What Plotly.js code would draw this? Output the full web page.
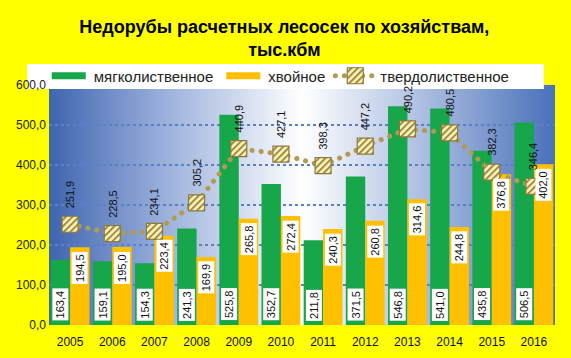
<!DOCTYPE html>
<html><head><meta charset="utf-8">
<script src="https://cdn.plot.ly/plotly-3.0.1.min.js"></script>
<style>
html,body{margin:0;padding:0;background:#FFFF00;}
#chart{width:571px;height:358px;}
.scatterlayer .js-line, .legendlines path{stroke-linecap:round;}
</style></head><body><div id="chart"></div>
<script>
const years = [2005, 2006, 2007, 2008, 2009, 2010, 2011, 2012, 2013, 2014, 2015, 2016];
const softLeaved = [163.4, 159.1, 154.3, 241.3, 525.8, 352.7, 211.8, 371.5, 546.8, 541.0, 435.8, 506.5];
const conifer = [194.5, 195.0, 223.4, 169.9, 265.8, 272.4, 240.3, 260.8, 314.6, 244.8, 376.8, 402.0];
const hardLeaved = [251.9, 228.5, 234.1, 305.2, 440.9, 427.1, 398.3, 447.2, 490.2, 480.5, 382.3, 346.4];
const seriesNames = ['мягколиственное', 'хвойное', 'твердолиственное'];
const titleText = 'Недорубы расчетных лесосек по хозяйствам,<br>тыс.кбм';

const fmt = v => v.toFixed(1).replace('.', ',');
const FONT = 'Liberation Sans, Arial, sans-serif';

// gradient background image for plot area
const cv = document.createElement('canvas');
cv.width = 500; cv.height = 240;
const cx = cv.getContext('2d');
const g = cx.createLinearGradient(0, 0, 500, 0);
g.addColorStop(0, '#3F65B0');
g.addColorStop(0.22, '#98AEDA');
g.addColorStop(0.5, '#FFFFFF');
g.addColorStop(0.72, '#B3C4E4');
g.addColorStop(1, '#4A71BA');
cx.fillStyle = g; cx.fillRect(0, 0, 500, 240);
const bgURL = cv.toDataURL('image/png');

const off = 0.23;
const traces = [
  {type: 'bar', name: seriesNames[0], x: years, y: softLeaved,
   marker: {color: '#17A64A'}, hoverinfo: 'none'},
  {type: 'bar', name: seriesNames[1], x: years, y: conifer,
   marker: {color: '#FFC000'}, hoverinfo: 'none'},
  {type: 'scatter', mode: 'lines+markers', name: seriesNames[2], x: years, y: hardLeaved,
   line: {color: '#B29A52', width: 5, dash: '0.1px,9px'},
   marker: {symbol: 'square', size: 16, color: '#F6E7A6', line: {color: '#8A7A3C', width: 1.2}},
   hoverinfo: 'none'}
];

const annotations = [];
years.forEach((yr, i) => {
  annotations.push({x: yr - off, y: 0, xref: 'x', yref: 'y', text: fmt(softLeaved[i]),
    textangle: -90, showarrow: false, yanchor: 'bottom', xanchor: 'center', yshift: 4,
    bgcolor: '#FFFFFF', borderpad: 1.5, font: {family: FONT, size: 11, color: '#111'}});
  annotations.push({x: yr + off, y: conifer[i], xref: 'x', yref: 'y', text: fmt(conifer[i]),
    textangle: -90, showarrow: false, yanchor: 'top', xanchor: 'center', yshift: -4,
    bgcolor: '#FFFFFF', borderpad: 1.5, font: {family: FONT, size: 11, color: '#111'}});
  annotations.push({x: yr, y: hardLeaved[i], xref: 'x', yref: 'y', text: fmt(hardLeaved[i]),
    textangle: -90, showarrow: false, yanchor: 'bottom', xanchor: 'center', yshift: 14,
    font: {family: FONT, size: 11, color: '#111'}});
});

const layout = {
  width: 571, height: 358,
  paper_bgcolor: '#FFFF00', plot_bgcolor: 'rgba(0,0,0,0)',
  margin: {l: 49, r: 16, t: 85, b: 33},
  title: {text: titleText, x: 0.498, xanchor: 'center', y: 0.908, yanchor: 'top', yref: 'container',
    font: {family: FONT, size: 18, weight: 700, color: '#000'}},
  barmode: 'group', bargap: 0.08, bargroupgap: 0,
  xaxis: {type: 'linear', range: [2004.5, 2016.5], tickvals: years, ticktext: years.map(String),
    showgrid: false, zeroline: false, showline: false, ticks: '', ticklabelstandoff: 8,
    tickfont: {family: FONT, size: 12, color: '#111'}},
  yaxis: {range: [0, 600], dtick: 100, tickformat: '.1f', showgrid: true,
    gridcolor: '#5B80C6', gridwidth: 1.5, griddash: 'dot', zeroline: false, showline: false,
    tickfont: {family: FONT, size: 12, color: '#222'}, ticks: '', ticklabelstandoff: 2},
  separators: ', ',
  showlegend: true,
  legend: {orientation: 'h', x: 0.455, xanchor: 'center', y: 1.0375, yanchor: 'middle',
    bgcolor: 'rgba(0,0,0,0)', font: {family: FONT, size: 15, color: '#222'}, itemwidth: 40,
    traceorder: 'normal'},
  shapes: [{type: 'rect', xref: 'paper', yref: 'paper', x0: -0.0435, x1: 0.978, y0: 0.983, y1: 1.0875,
    fillcolor: '#FFFFFF', line: {width: 0}, layer: 'below'}],
  images: [{source: bgURL, xref: 'paper', yref: 'paper', x: 0, y: 1, sizex: 1, sizey: 1,
    sizing: 'stretch', xanchor: 'left', yanchor: 'top', layer: 'below'}],
  annotations: annotations
};

Plotly.newPlot('chart', traces, layout, {staticPlot: true, displayModeBar: false}).then(gd => {
  const NS = 'http://www.w3.org/2000/svg';
  const svg = gd.querySelector('svg.main-svg');
  let defs = svg.querySelector('defs');
  if (!defs) { defs = document.createElementNS(NS, 'defs'); svg.insertBefore(defs, svg.firstChild); }
  const pat = document.createElementNS(NS, 'pattern');
  pat.setAttribute('id', 'hatchpat');
  pat.setAttribute('patternUnits', 'userSpaceOnUse');
  pat.setAttribute('width', '4.6'); pat.setAttribute('height', '4.6');
  pat.setAttribute('patternTransform', 'rotate(45)');
  const r1 = document.createElementNS(NS, 'rect');
  r1.setAttribute('width', '4.6'); r1.setAttribute('height', '4.6'); r1.setAttribute('fill', '#FFF4B8');
  const r2 = document.createElementNS(NS, 'rect');
  r2.setAttribute('width', '2'); r2.setAttribute('height', '4.6'); r2.setAttribute('fill', '#A08C45');
  pat.appendChild(r1); pat.appendChild(r2); defs.appendChild(pat);
  gd.querySelectorAll('.scatterlayer .points path').forEach(p => { p.style.fill = 'url(#hatchpat)'; });
  document.querySelectorAll('.legend .traces').forEach((t, i) => {
    if (i < 2) {
      t.querySelectorAll('.legendpoints path').forEach(p => p.setAttribute('d', 'M17,3.5H-17V-3.5H17Z'));
    } else {
      t.querySelectorAll('.legendpoints path.scatterpts').forEach(p => { p.style.fill = 'url(#hatchpat)'; });
    }
  });
});
</script></body></html>
